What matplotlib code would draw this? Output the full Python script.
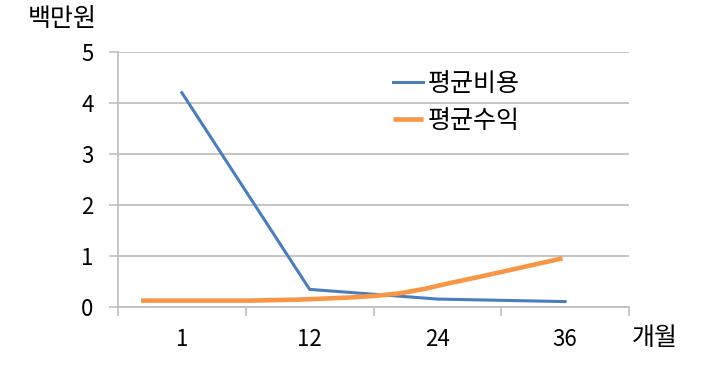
"""Average cost vs average revenue by month (Excel-style line chart)."""
import matplotlib
matplotlib.use("Agg")
import matplotlib.pyplot as plt

plt.rcParams["font.family"] = ["Noto Sans CJK KR", "DejaVu Sans"]

MONTHS = ["1", "12", "24", "36"]
COST = [4.2, 0.34, 0.15, 0.10]
# revenue series is sampled more finely along the category axis
REV_X = [-0.32, 0.14, 0.53, 0.92, 1.12, 1.31, 1.50, 1.70, 1.90, 2.09, 2.28, 2.48, 2.73, 2.98]
REV = [0.12, 0.12, 0.12, 0.14, 0.16, 0.18, 0.21, 0.26, 0.35, 0.46, 0.56, 0.67, 0.81, 0.95]

GRID = "#c0c0c0"
fig = plt.figure(figsize=(7.2, 3.72), dpi=100)
ax = fig.add_axes([118 / 720, 1 - 306.7 / 372, 511 / 720, 254.7 / 372])

ax.plot(range(len(MONTHS)), COST, color="#4a7ebb", lw=2.2, label="평균비용", zorder=3)
ax.plot(REV_X, REV, color="#f79646", lw=3.3, label="평균수익", zorder=3,
        solid_capstyle="butt", solid_joinstyle="round")

ax.set_xlim(-0.5, len(MONTHS) - 0.5)
ax.set_ylim(0, 5)
ax.set_yticks(range(6))
ax.yaxis.grid(True, color=GRID, lw=1.3)
ax.set_axisbelow(True)
ax.set_xticks([i - 0.5 for i in range(len(MONTHS) + 1)])
ax.set_xticklabels([])
ax.set_xticks(range(len(MONTHS)), minor=True)
ax.set_xticklabels(MONTHS, minor=True)
ax.tick_params(axis="x", which="major", length=6.5, color=GRID, width=1.2, direction="out")
ax.tick_params(axis="x", which="minor", length=0, pad=15, labelsize=16)
ax.tick_params(axis="y", length=6.5, color=GRID, width=1.2, pad=11, labelsize=16)
for s in ("top", "right"):
    ax.spines[s].set_visible(False)
for s in ("left", "bottom"):
    ax.spines[s].set_color(GRID)
    ax.spines[s].set_linewidth(1.3)

ax.legend(loc="upper left", bbox_to_anchor=(0.538, 0.925), frameon=False, fontsize=18,
          handlelength=1.2, handletextpad=0.2, labelspacing=0.42,
          borderaxespad=0, borderpad=0)

fig.text(62 / 720, 1 - 19 / 372, "백만원", ha="center", va="center", fontsize=18)
fig.text(655 / 720, 1 - 338 / 372, "개월", ha="center", va="center", fontsize=18)

fig.savefig("out.png", dpi=100)
